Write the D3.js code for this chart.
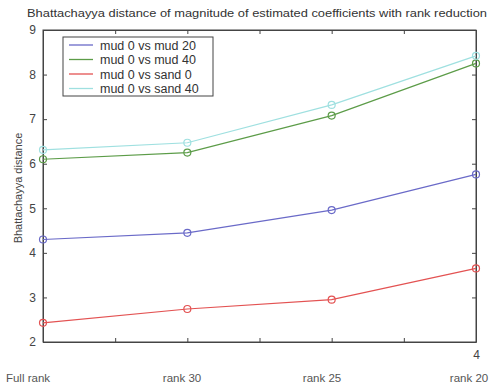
<!DOCTYPE html>
<html>
<head>
<meta charset="utf-8">
<script src="https://cdn.jsdelivr.net/npm/d3@7"></script>
<style>
  html, body { margin: 0; padding: 0; background: #ffffff; }
  svg { display: block; font-family: "Liberation Sans", Arial, sans-serif; }
</style>
</head>
<body>
<svg id="chart" width="490" height="386"></svg>
<script>
// ---- data ----
const categories = ["Full rank", "rank 30", "rank 25", "rank 20"];
const xPositions = [1, 2, 3, 4];
const seriesNames = ["mud 0 vs mud 20", "mud 0 vs mud 40", "mud 0 vs sand 0", "mud 0 vs sand 40"];
const mud20 = [4.30, 4.45, 4.96, 5.76];
const mud40 = [6.10, 6.25, 7.08, 8.25];
const sand0 = [2.43, 2.74, 2.95, 3.65];
const sand40 = [6.31, 6.47, 7.32, 8.42];
const yTicks = [2, 3, 4, 5, 6, 7, 8, 9];
const xTicks = [1, 1.5, 2, 2.5, 3, 3.5, 4];
const xTickLabels = ["4"];
const seriesColors = ["#6a6ac8", "#5c9c48", "#e35252", "#9fe0e0"];

const svg = d3.select("#chart");
const pLeft = 43, pRight = 476, pTop = 30, pBottom = 342;

const x = d3.scaleLinear().domain([1, 4]).range([pLeft, pRight]);
const y = d3.scaleLinear().domain([2, 9]).range([pBottom, pTop]);

// title
svg.append("text")
  .attr("x", 257).attr("y", 17)
  .attr("text-anchor", "middle")
  .attr("font-size", 11.5)
  .attr("fill", "#333")
  .attr("textLength", 460)
  .attr("lengthAdjust", "spacingAndGlyphs")
  .text("Bhattachayya distance of magnitude of estimated coefficients with rank reduction");

// frame
svg.append("rect")
  .attr("x", pLeft).attr("y", pTop)
  .attr("width", pRight - pLeft).attr("height", pBottom - pTop)
  .attr("fill", "none").attr("stroke", "#444").attr("stroke-width", 1);

// axes (inward ticks)
const tl = 4;
const yLeft = d3.axisLeft(y).tickValues(yTicks).tickSizeInner(-tl).tickSizeOuter(0).tickPadding(7).tickFormat(d3.format("d"));
const gl = svg.append("g").attr("transform", `translate(${pLeft},0)`).call(yLeft);
const yRight = d3.axisRight(y).tickValues(yTicks).tickSizeInner(-tl).tickSizeOuter(0).tickFormat("");
const gr = svg.append("g").attr("transform", `translate(${pRight},0)`).call(yRight);
const xTop = d3.axisTop(x).tickValues(xTicks).tickSizeInner(-tl).tickSizeOuter(0).tickFormat("");
const gt = svg.append("g").attr("transform", `translate(0,${pTop})`).call(xTop);
const xBottom = d3.axisBottom(x).tickValues(xTicks).tickSizeInner(-tl).tickSizeOuter(0).tickPadding(8)
  .tickFormat(d => xTickLabels.includes(String(d)) ? String(d) : "");
const gb = svg.append("g").attr("transform", `translate(0,${pBottom})`).call(xBottom);
[gl, gr, gt, gb].forEach(g => {
  g.select(".domain").attr("stroke", "#444");
  g.selectAll(".tick line").attr("stroke", "#444");
  g.selectAll(".tick text").attr("font-size", 12).attr("fill", "#444").attr("font-family", "Liberation Sans, Arial, sans-serif");
});

// y label
svg.append("text")
  .attr("transform", "translate(22,188) rotate(-90)")
  .attr("text-anchor", "middle")
  .attr("font-size", 11)
  .attr("fill", "#444")
  .text("Bhattachayya distance");

// category labels below
const catX = [28, 182, 322, 469];
svg.append("g").selectAll("text").data(categories).join("text")
  .attr("x", (d, i) => catX[i]).attr("y", 382)
  .attr("text-anchor", "middle")
  .attr("font-size", 11.5)
  .attr("fill", "#555")
  .text(d => d);

// series
const allSeries = [mud20, mud40, sand0, sand40];
const line = d3.line().x((d, i) => x(xPositions[i])).y(d => y(d));
const drawOrder = [0, 2, 1, 3];
drawOrder.forEach(si => {
  const vals = allSeries[si];
  svg.append("path").datum(vals)
    .attr("d", line).attr("fill", "none")
    .attr("stroke", seriesColors[si]).attr("stroke-width", 1.2);
  svg.append("g").selectAll("circle").data(vals).join("circle")
    .attr("cx", (d, i) => x(xPositions[i])).attr("cy", d => y(d))
    .attr("r", 3.5).attr("fill", "none")
    .attr("stroke", seriesColors[si]).attr("stroke-width", 1.2);
});

// legend
const lg = svg.append("g");
lg.append("rect").attr("x", 63).attr("y", 37).attr("width", 150).attr("height", 59)
  .attr("fill", "#fff").attr("stroke", "#444").attr("stroke-width", 1);
seriesNames.forEach((name, i) => {
  const yy = 45 + i * 14.5;
  lg.append("line").attr("x1", 69).attr("x2", 93).attr("y1", yy).attr("y2", yy)
    .attr("stroke", seriesColors[i]).attr("stroke-width", 1.3);
  lg.append("text").attr("x", 100).attr("y", yy + 4.5)
    .attr("font-size", 12.5).attr("fill", "#333").text(name);
});
</script>
</body>
</html>
